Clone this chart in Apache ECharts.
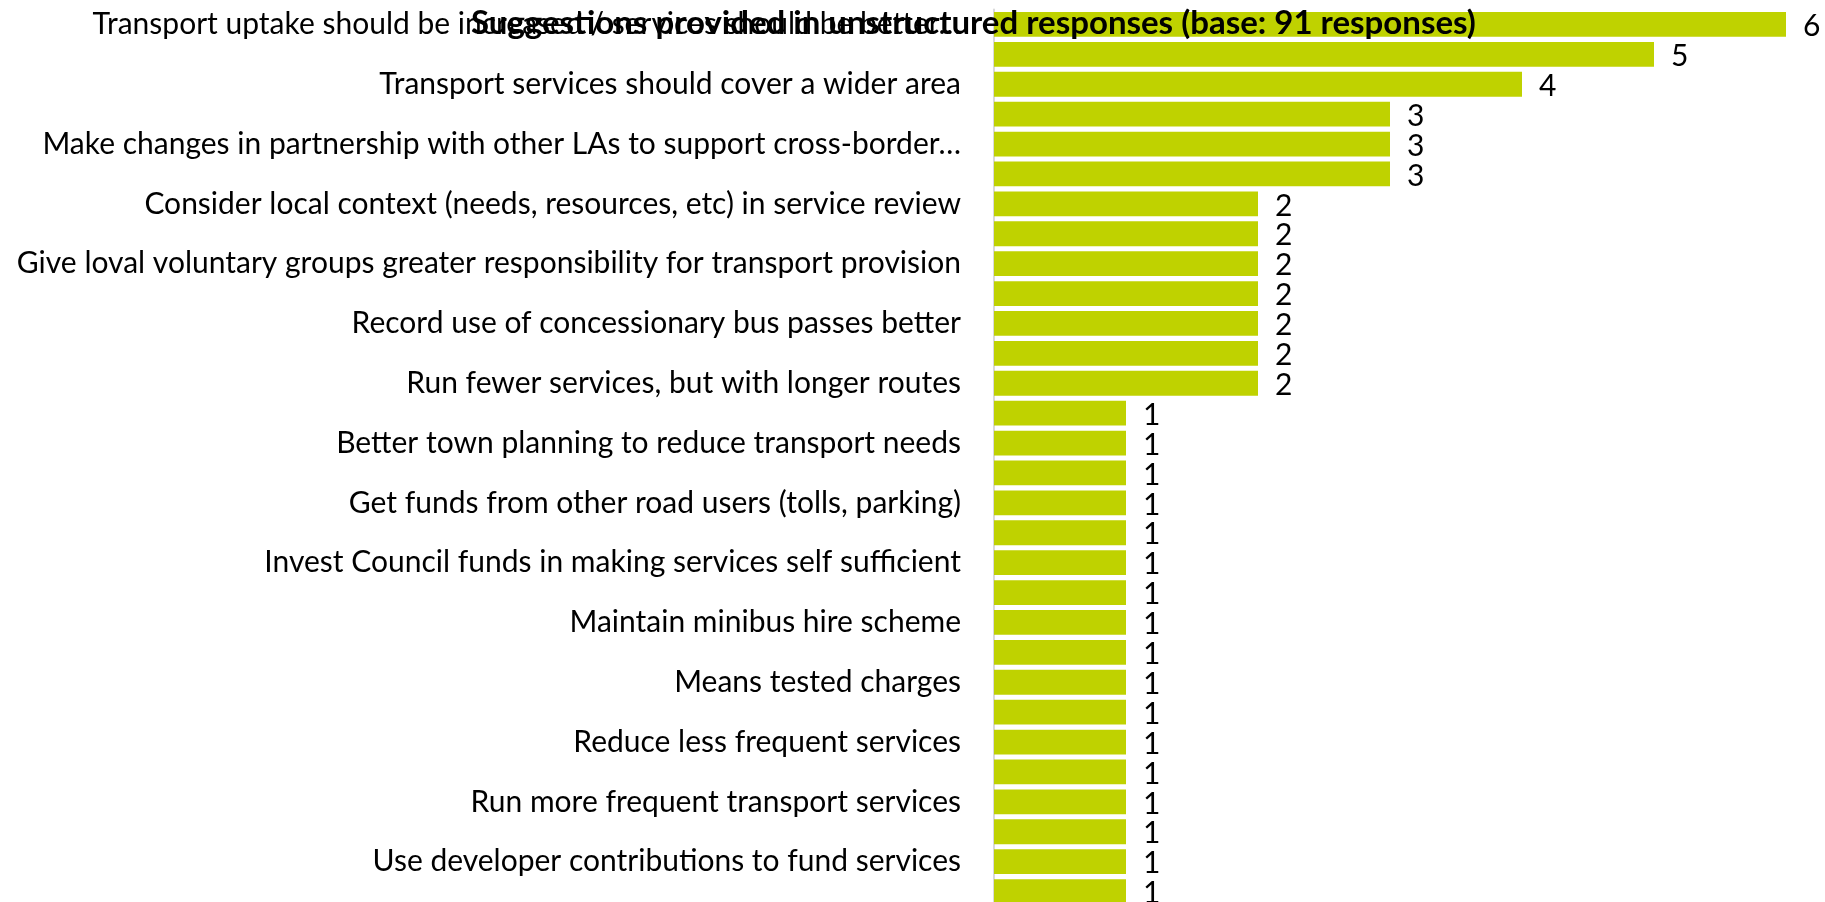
<!DOCTYPE html>
<html>
<head>
<meta charset="utf-8">
<script src="https://cdn.jsdelivr.net/npm/echarts@6/dist/echarts.min.js"></script>
<style>
  html, body { margin: 0; padding: 0; background: #fff; }
  #chart { width: 1825px; height: 902px; }
</style>
</head>
<body>
<div id="chart"></div>
<script>
// categories top to bottom; blank ones are bars whose label is not shown
const categories = [
  'Transport uptake should be increased / services should be better\u2026',
  '',
  'Transport services should cover a wider area',
  '',
  'Make changes in partnership with other LAs to support cross-border\u2026',
  '',
  'Consider local context (needs, resources, etc) in service review',
  '',
  'Give loval voluntary groups greater responsibility for transport provision',
  '',
  'Record use of concessionary bus passes better',
  '',
  'Run fewer services, but with longer routes',
  '',
  'Better town planning to reduce transport needs',
  '',
  'Get funds from other road users (tolls, parking)',
  '',
  'Invest Council funds in making services self sufficient',
  '',
  'Maintain minibus hire scheme',
  '',
  'Means tested charges',
  '',
  'Reduce less frequent services',
  '',
  'Run more frequent transport services',
  '',
  'Use developer contributions to fund services',
  ''
];
const counts = [6, 5, 4, 3, 3, 3, 2, 2, 2, 2, 2, 2, 2,
  1, 1, 1, 1, 1, 1, 1, 1, 1, 1, 1, 1, 1, 1, 1, 1, 1];
const titleText = 'Suggestions provided in unstructured responses (base: 91 responses)';

const font = 'Lato, "Open Sans", sans-serif';
let myChart = echarts.init(document.getElementById('chart'));
myChart.setOption({
  animation: false,
  title: {
    text: titleText,
    left: 466,
    top: 2,
    textStyle: { fontFamily: font, fontSize: 33, fontWeight: 'bold', color: '#000' }
  },
  grid: { left: 994, top: 9.5, width: 792, height: 897, outerBoundsMode: 'none' },
  xAxis: {
    type: 'value',
    min: 0,
    max: 6,
    show: false
  },
  yAxis: {
    type: 'category',
    inverse: true,
    data: categories,
    axisLine: { show: true, lineStyle: { color: '#d9d9d9', width: 2 } },
    axisTick: { show: false },
    axisLabel: {
      interval: 0,
      margin: 33,
      fontFamily: font,
      fontSize: 30,
      color: '#000'
    }
  },
  series: [
    {
      type: 'bar',
      data: counts,
      barCategoryGap: '17%',
      itemStyle: { color: '#bfd200' },
      label: {
        show: true,
        position: 'right',
        distance: 17,
        offset: [0, 2],
        fontFamily: font,
        fontSize: 30,
        color: '#000'
      }
    }
  ]
});
</script>
</body>
</html>
